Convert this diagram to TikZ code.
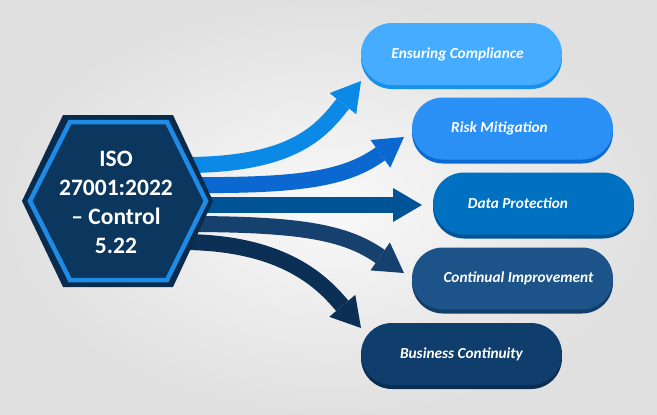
\documentclass[tikz,border=0pt]{standalone}
\usepackage{fontspec}
\setmainfont{Carlito}
\usetikzlibrary{arrows.meta,shapes.misc,shadows}
\definecolor{bgin}{HTML}{F9F9F9}
\definecolor{bgout}{HTML}{E0E0E0}
\definecolor{hexout}{HTML}{0B2B4C}
\definecolor{hexring}{HTML}{1E8BE6}
\definecolor{hexin}{HTML}{0B365E}
\definecolor{aone}{HTML}{0A8AE6}
\definecolor{atwo}{HTML}{0A68D0}
\definecolor{athree}{HTML}{005394}
\definecolor{afour}{HTML}{16406E}
\definecolor{afive}{HTML}{0B2F55}
\definecolor{bonef}{HTML}{45ACFF}
\definecolor{bonee}{HTML}{1890EE}
\definecolor{btwof}{HTML}{2B90F5}
\definecolor{btwoe}{HTML}{0B6BD3}
\definecolor{bthreef}{HTML}{0070C0}
\definecolor{bthreee}{HTML}{00559A}
\definecolor{bfourf}{HTML}{1C5389}
\definecolor{bfoure}{HTML}{133E6A}
\definecolor{bfivef}{HTML}{0F3D6C}
\definecolor{bfivee}{HTML}{0A2D52}
\begin{document}
\begin{tikzpicture}[x=1pt,y=-1pt,
  flow/.style={draw=#1, line width=16pt,
    -{Triangle[length=29pt,width=34pt,line width=0pt]}},
  item/.style n args={2}{rounded rectangle, minimum width=201pt,
    minimum height=62pt, inner sep=0pt, fill=#1,
    drop shadow={shadow xshift=0pt, shadow yshift=-4pt, fill=#2, opacity=1},
    text=white, font=\fontsize{15.3}{18}\selectfont\bfseries\itshape},
  hextext/.style={text=white, align=center,
    font=\fontsize{23.5}{29}\selectfont\bfseries}]
\useasboundingbox (0,0) rectangle (657,415);
\shade[inner color=bgin, outer color=bgout] (0,0) rectangle (657,415);

% start and tip coordinates
\coordinate (s1) at (185,165);
\coordinate (s2) at (185,185);
\coordinate (s3) at (185,205);
\coordinate (s4) at (185,224);
\coordinate (s5) at (185,242);
\coordinate (t1) at (361,81);
\coordinate (t2) at (404,137);
\coordinate (t3) at (422,205);
\coordinate (t4) at (404,273);
\coordinate (t5) at (361,328);

% connectors
\draw[flow=aone] (s1) .. controls (295,165) and (322,130) .. (t1);
\draw[flow=atwo] (s2) .. controls (300,186) and (345,179) .. (t2);
\draw[flow=athree] (s3) -- (t3);
\draw[flow=afour] (s4) .. controls (300,224) and (345,232) .. (t4);
\draw[flow=afive] (s5) .. controls (285,243) and (323,283) .. (t5);

% hexagon
\fill[hexout] (63,115) -- (173,115) -- (213,201) -- (173,287) -- (63,287) -- (22,201) -- cycle;
\filldraw[fill=hexin, draw=hexring, line width=4.5pt, line join=miter]
  (70,122) -- (167,122) -- (206,201) -- (167,280) -- (70,280) -- (30,201) -- cycle;
\node[hextext] (hex) at (116,202) {ISO\\27001:2022\\– Control\\5.22};

% boxes
\node[item={bonef}{bonee}] (b1) at (461.5,54) {Ensuring Compliance\hspace*{8pt}};
\node[item={btwof}{btwoe}] (b2) at (512.5,128.5) {Risk Mitigation\hspace*{26pt}};
\node[item={bthreef}{bthreee}] (b3) at (533.5,203.5) {Data Protection\hspace*{31pt}};
\node[item={bfourf}{bfoure}] (b4) at (512.5,278.5) {\hspace*{12pt}Continual Improvement};
\node[item={bfivef}{bfivee}] (b5) at (461.5,354) {Business Continuity};
\end{tikzpicture}
\end{document}
